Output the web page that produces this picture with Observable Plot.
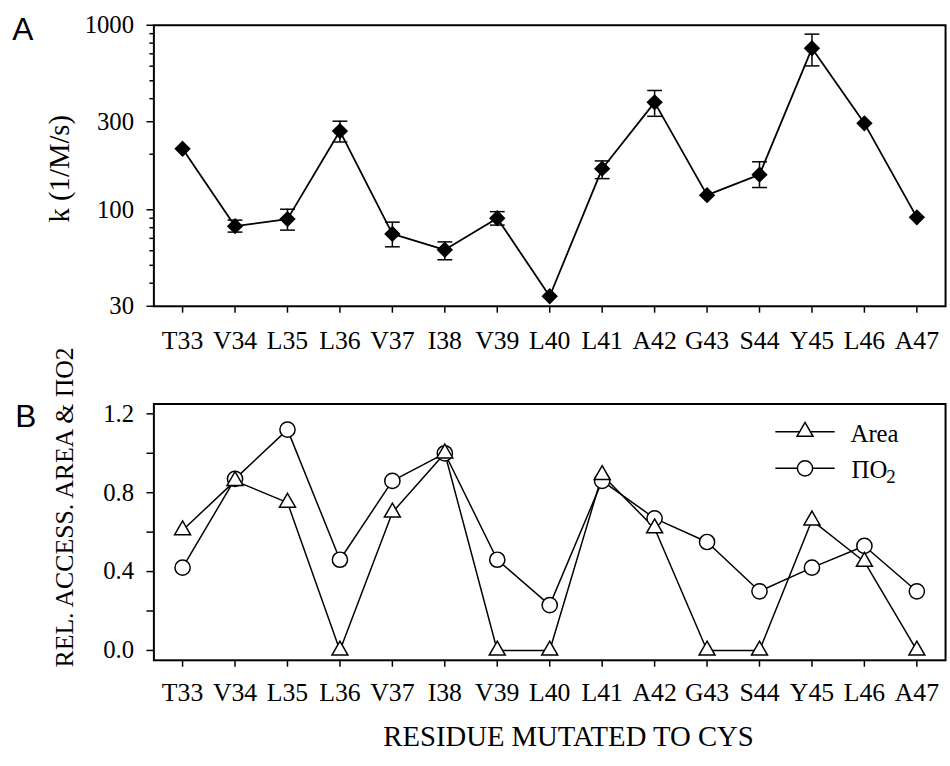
<!DOCTYPE html>
<html>
<head>
<meta charset="utf-8">
<script src="https://cdn.jsdelivr.net/npm/d3@7"></script>
<script src="https://cdn.jsdelivr.net/npm/@observablehq/plot@0.6"></script>
<style>
  html, body { margin: 0; padding: 0; background: white; }
  #wrap { width: 950px; height: 766px; overflow: hidden; position: relative; background: white; }
  #wrap svg { display: block; font-family: "Liberation Serif", "Times New Roman", serif !important; }
</style>
</head>
<body>
<div id="wrap"></div>
<script>
// ---- data ----
const residues = ["T33","V34","L35","L36","V37","I38","V39","L40","L41","A42","G43","S44","Y45","L46","A47"];
const kValues  = [214, 81.5, 89, 267, 74, 60.7, 90, 34, 167, 382, 120, 155, 750, 294, 91];
const kLow     = [null, 75.7, 77.6, 233, 63, 53.6, 82.6, null, 147.5, 321, null, 132, 602, null, null];
const kHigh    = [null, 87.9, 100.7, 302, 85.7, 67, 97.7, null, 184, 443, null, 182, 895, null, null];
const areaValues = [0.61, 0.86, 0.75, 0, 0.70, 1.0, 0, 0, 0.89, 0.62, 0, 0, 0.66, 0.45, 0];
const po2Values  = [0.42, 0.87, 1.12, 0.46, 0.86, 1.0, 0.46, 0.23, 0.86, 0.67, 0.55, 0.30, 0.42, 0.53, 0.30];
const kTicks      = [30, 100, 300, 1000];
const kMinorTicks = [40, 50, 60, 70, 80, 90, 200, 400, 500, 600, 700, 800, 900];
const bTicks      = [0, 0.4, 0.8, 1.2];
const bMinorTicks = [0.2, 0.6, 1.0];
const legendLabels = ["Area", "ΠO"];

// ---- tables ----
const rows = residues.map((r, i) => ({r, k: kValues[i], lo: kLow[i], hi: kHigh[i], area: areaValues[i], po2: po2Values[i]}));
const errRows = rows.filter(d => d.lo != null && d.hi != null);

const serif = "Liberation Serif";
const sans = "Liberation Sans";
const capSymbol = {draw(ctx) { ctx.moveTo(-7.5, 0); ctx.lineTo(7.5, 0); }};
const legendLineSymbol = {draw(ctx) { ctx.moveTo(-30, 0); ctx.lineTo(30, 0); }};

const common = {
  width: 960, marginLeft: 155, marginRight: 5,
  style: {fontSize: "25px", color: "black", background: "white", overflow: "visible"}
};

const plotA = Plot.plot({
  ...common,
  height: 360, marginTop: 25, marginBottom: 51,
  x: {type: "point", domain: residues, label: null},
  y: {type: "log", domain: [30, 1000], label: null},
  marks: [
    Plot.frame({stroke: "black", strokeWidth: 2}),
    Plot.axisX({tickSize: 7, tickPadding: 18, strokeWidth: 1.5, fontSize: 26, fontFamily: serif, label: null}),
    Plot.axisY({ticks: kTicks, tickFormat: d => String(d), tickSize: 7, tickPadding: 13, strokeWidth: 1.5, fontSize: 25, fontFamily: serif, label: null}),
    Plot.axisY({ticks: kMinorTicks, tickFormat: () => "", tickSize: 4, strokeWidth: 1.5, label: null}),
    Plot.ruleX(errRows, {x: "r", y1: "lo", y2: "hi", stroke: "black", strokeWidth: 1.5}),
    Plot.dot(errRows, {x: "r", y: "lo", symbol: capSymbol, stroke: "black", fill: "none", strokeWidth: 1.5}),
    Plot.dot(errRows, {x: "r", y: "hi", symbol: capSymbol, stroke: "black", fill: "none", strokeWidth: 1.5}),
    Plot.line(rows, {x: "r", y: "k", stroke: "black", strokeWidth: 1.8}),
    Plot.dot(rows, {x: "r", y: "k", symbol: "diamond2", r: 6.5, fill: "black", stroke: "black"}),
    Plot.text(["A"], {text: d => d, frameAnchor: "top-left", dx: -143, dy: -8, textAnchor: "start", lineAnchor: "top", fontFamily: sans, fontSize: 32}),
    Plot.text(["k (1/M/s)"], {text: d => d, frameAnchor: "left", rotate: -90, dx: -95, dy: 3, textAnchor: "middle", lineAnchor: "middle", fontSize: 29, fontFamily: serif})
  ]
});

const plotB = Plot.plot({
  ...common,
  height: 406, marginTop: 48, marginBottom: 99,
  x: {type: "point", domain: residues, label: null},
  y: {type: "linear", domain: [-0.05, 1.25], label: null},
  marks: [
    Plot.frame({stroke: "black", strokeWidth: 2}),
    Plot.axisX({tickSize: 7, tickPadding: 16, strokeWidth: 1.5, fontSize: 26, fontFamily: serif, label: null}),
    Plot.axisY({ticks: bTicks, tickFormat: d3.format(".1f"), tickSize: 7, tickPadding: 13, strokeWidth: 1.5, fontSize: 25, fontFamily: serif, label: null}),
    Plot.axisY({ticks: bMinorTicks, tickFormat: () => "", tickSize: 7, strokeWidth: 1.5, label: null}),
    Plot.line(rows, {x: "r", y: "po2", stroke: "black", strokeWidth: 1.5}),
    Plot.line(rows, {x: "r", y: "area", stroke: "black", strokeWidth: 1.5}),
    Plot.dot(rows, {x: "r", y: "po2", symbol: "circle", r: 7.7, fill: "white", stroke: "black", strokeWidth: 1.5}),
    Plot.dot(rows, {x: "r", y: "area", symbol: "triangle", r: 6, fill: "white", stroke: "black", strokeWidth: 1.5}),
    // legend
    Plot.dot([legendLabels[0]], {frameAnchor: "top-right", dx: -142, dy: 28, symbol: legendLineSymbol, stroke: "black", fill: "none", strokeWidth: 1.5}),
    Plot.dot([legendLabels[0]], {frameAnchor: "top-right", dx: -142, dy: 28, symbol: "triangle", r: 6, stroke: "black", fill: "white", strokeWidth: 1.5}),
    Plot.dot([legendLabels[1]], {frameAnchor: "top-right", dx: -142, dy: 65, symbol: legendLineSymbol, stroke: "black", fill: "none", strokeWidth: 1.5}),
    Plot.dot([legendLabels[1]], {frameAnchor: "top-right", dx: -142, dy: 65, symbol: "circle", r: 7.7, stroke: "black", fill: "white", strokeWidth: 1.5}),
    Plot.text([legendLabels[0]], {text: d => d, frameAnchor: "top-right", dx: -96, dy: 30, textAnchor: "start", lineAnchor: "middle", fontSize: 25, fontFamily: serif}),
    Plot.text([legendLabels[1]], {text: d => d, frameAnchor: "top-right", dx: -95, dy: 67, textAnchor: "start", lineAnchor: "middle", fontSize: 25, fontFamily: serif}),
    Plot.text(["2"], {text: d => d, frameAnchor: "top-right", dx: -60, dy: 74, textAnchor: "start", lineAnchor: "middle", fontSize: 19, fontFamily: serif}),
    Plot.text(["B"], {text: d => d, frameAnchor: "top-left", dx: -140, dy: 1, textAnchor: "start", lineAnchor: "top", fontFamily: sans, fontSize: 32}),
    Plot.text(["REL. ACCESS. AREA & ΠO2"], {text: d => d, frameAnchor: "left", rotate: -90, dx: -90, dy: -25, textAnchor: "middle", lineAnchor: "middle", fontSize: 26, fontFamily: serif}),
    Plot.text(["RESIDUE MUTATED TO CYS"], {text: d => d, frameAnchor: "bottom", dx: 19, dy: 77, textAnchor: "middle", lineAnchor: "middle", fontSize: 29, fontFamily: serif})
  ]
});

const wrap = document.getElementById("wrap");
wrap.appendChild(plotA);
wrap.appendChild(plotB);
</script>
</body>
</html>
